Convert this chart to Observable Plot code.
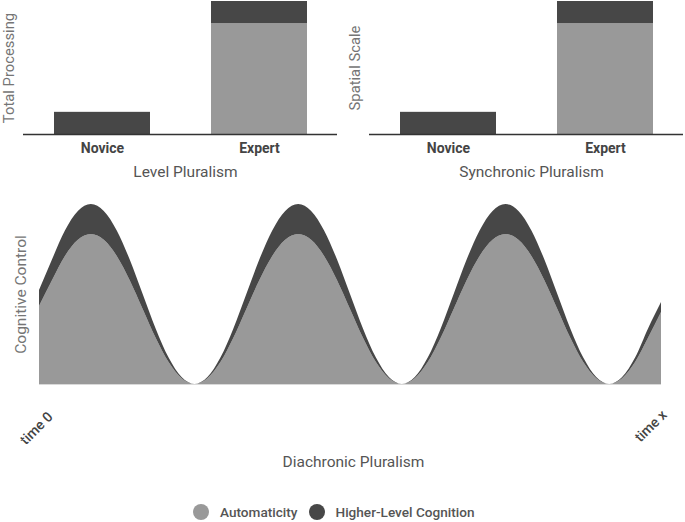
<!DOCTYPE html>
<html><head><meta charset="utf-8">
<script src="https://cdn.jsdelivr.net/npm/d3@7"></script>
<script src="https://cdn.jsdelivr.net/npm/@observablehq/plot@0.6"></script>
<style>
body{margin:0;background:#fff;font-family:Roboto, sans-serif;}
#c{position:relative;width:685px;height:522px;overflow:hidden;}
#c svg{position:absolute;}
.legend{position:absolute;left:193px;top:504px;display:flex;align-items:center;font-size:13.6px;font-weight:500;color:#555;line-height:16px;}
.sw{width:16px;height:16px;border-radius:50%;display:inline-block;margin-right:11px;}
.item{display:flex;align-items:center;margin-right:11px;}
</style></head><body><div id="c"></div>
<script>
const categories = ["Novice", "Expert"];
const series = ["Automaticity", "Higher-Level Cognition"];
const colors = ["#999999", "#474747"];
const levelAuto = [0, 5];
const levelHigher = [1, 1];
const spatialAuto = [0, 5];
const spatialHigher = [1, 1];
const time = [0,1,2,3,4,5,6,7,8,9,10,11,12,13,14,15,16,17,18,19,20,21,22,23,24,25,26,27,28,29,30,31,32,33,34,35,36,37,38,39,40,41,42,43,44,45,46,47,48];
const autoVals = [2.6,3.46,4.27,4.81,5.0,4.81,4.27,3.46,2.5,1.54,0.73,0.19,0,0.19,0.73,1.54,2.5,3.46,4.27,4.81,5.0,4.81,4.27,3.46,2.5,1.54,0.73,0.19,0,0.19,0.73,1.54,2.5,3.46,4.27,4.81,5.0,4.81,4.27,3.46,2.5,1.54,0.73,0.19,0,0.19,0.73,1.54,2.4];
const higherVals = [0.53,0.69,0.85,0.96,1.0,0.96,0.85,0.69,0.5,0.31,0.15,0.04,0,0.04,0.15,0.31,0.5,0.69,0.85,0.96,1.0,0.96,0.85,0.69,0.5,0.31,0.15,0.04,0,0.04,0.15,0.31,0.5,0.69,0.85,0.96,1.0,0.96,0.85,0.69,0.5,0.31,0.15,0.04,0,0.04,0.15,0.31,0.33];
const timeTicks = [0, 48];
const timeLabels = ["time 0", "time x"];

const font = "Roboto, sans-serif";
const c = document.getElementById("c");

function barChart(auto, higher, yLabel, xLabel, left, ml, mr) {
  const rows = categories.flatMap((cat, i) => [
    {cat, series: series[0], v: auto[i]},
    {cat, series: series[1], v: higher[i]}
  ]);
  const p = Plot.plot({
    width: 340, height: 185, marginTop: 1, marginBottom: 51, marginLeft: ml, marginRight: mr,
    style: {fontFamily: font, background: "transparent", overflow: "visible"},
    x: {domain: categories, paddingInner: 0.39, paddingOuter: 0.195, axis: null},
    y: {domain: [0, 6], axis: null},
    color: {domain: series, range: colors},
    marks: [
      Plot.barY(rows, {x: "cat", y: "v", fill: "series", order: series}),
      Plot.ruleY([0], {stroke: "#333", strokeWidth: 1.6}),
      Plot.text(categories, {x: d => d, text: d => d, frameAnchor: "bottom", lineAnchor: "middle", dy: 14, fontWeight: "bold", fontSize: 14, fill: "#444"}),
      Plot.text([xLabel], {text: d => d, frameAnchor: "bottom", lineAnchor: "middle", dy: 38, dx: 5, fontSize: 15.5, fill: "#555"}),
      Plot.text([yLabel], {text: d => d, frameAnchor: "left", textAnchor: "middle", lineAnchor: "middle", dx: -14, rotate: -90, fontSize: 14.8, fill: "#757575"})
    ]
  });
  p.style.left = left + "px";
  p.style.top = "0px";
  c.appendChild(p);
}

barChart(levelAuto, levelHigher, "Total Processing", "Level Pluralism", 0, 23, 3);
barChart(spatialAuto, spatialHigher, "Spatial Scale", "Synchronic Pluralism", 345, 24, 2);

const areaRows = time.flatMap((t, i) => [
  {t, series: series[0], v: autoVals[i]},
  {t, series: series[1], v: higherVals[i]}
]);

const bottom = Plot.plot({
  width: 685, height: 295, marginTop: 19, marginBottom: 96, marginLeft: 39, marginRight: 24,
  style: {fontFamily: font, background: "transparent", overflow: "visible"},
  x: {domain: [timeTicks[0], timeTicks[1]], axis: null},
  y: {domain: [0, 6], axis: null},
  color: {domain: series, range: colors},
  marks: [
    Plot.ruleY([0], {stroke: "#d9d9d9"}),
    Plot.areaY(areaRows, {x: "t", y: "v", fill: "series", curve: "monotone-x", order: series}),
    Plot.text([{t: timeTicks[0], label: timeLabels[0]}], {x: "t", text: "label", frameAnchor: "bottom", rotate: -45, textAnchor: "end", lineAnchor: "middle", dx: 11, dy: 30, fontSize: 14, fontWeight: 500, fill: "#444"}),
    Plot.text([{t: timeTicks[1], label: timeLabels[1]}], {x: "t", text: "label", frameAnchor: "bottom", rotate: -45, textAnchor: "end", lineAnchor: "middle", dx: 3, dy: 28, fontSize: 14, fontWeight: 500, fill: "#444"}),
    Plot.text(["Diachronic Pluralism"], {text: d => d, frameAnchor: "bottom", lineAnchor: "middle", dy: 78, dx: 3, fontSize: 15.5, fill: "#555"}),
    Plot.text(["Cognitive Control"], {text: d => d, frameAnchor: "left", textAnchor: "middle", lineAnchor: "middle", dx: -18, rotate: -90, fontSize: 15.5, fill: "#757575"})
  ]
});
bottom.style.left = "0px";
bottom.style.top = "185px";
c.appendChild(bottom);

const legend = document.createElement("div");
legend.className = "legend";
series.forEach((s, i) => {
  const item = document.createElement("div");
  item.className = "item";
  const sw = document.createElement("span");
  sw.className = "sw";
  sw.style.background = colors[i];
  const label = document.createElement("span");
  label.textContent = s;
  item.appendChild(sw);
  item.appendChild(label);
  legend.appendChild(item);
});
c.appendChild(legend);
</script></body></html>
